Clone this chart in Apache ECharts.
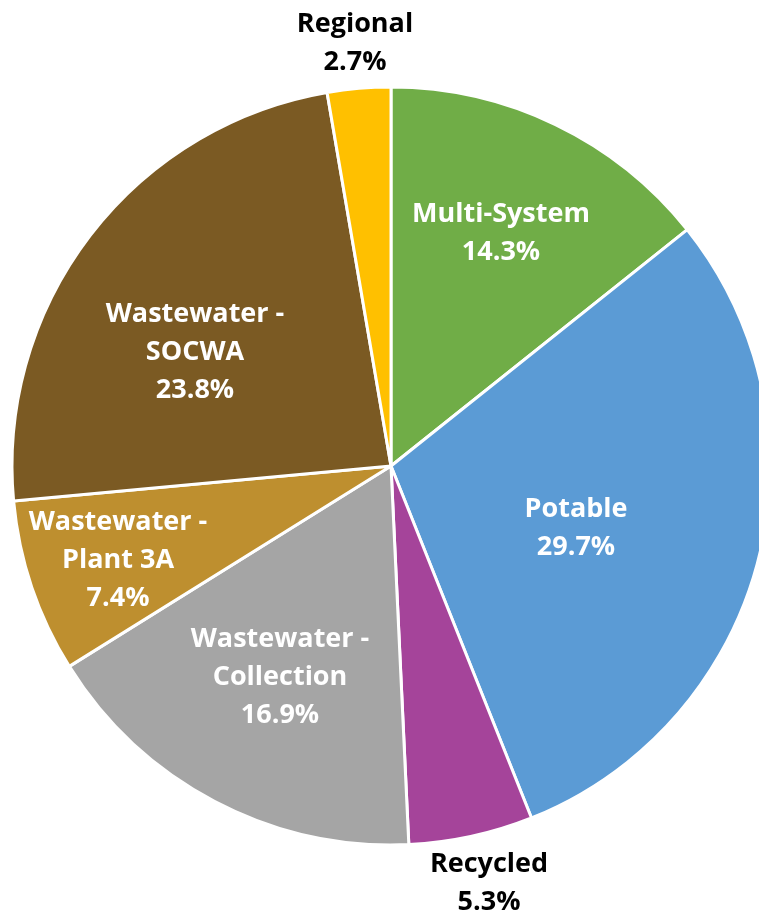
<!DOCTYPE html>
<html>
<head>
<meta charset="utf-8">
<script src="https://cdn.jsdelivr.net/npm/echarts@6/dist/echarts.min.js"></script>
<style>
html,body{margin:0;padding:0;background:#fff;}
#chart{width:759px;height:917px;}
</style>
</head>
<body>
<div id="chart"></div>
<script>
var categories = ['Multi-System', 'Potable', 'Recycled', 'Wastewater -\nCollection', 'Wastewater -\nPlant 3A', 'Wastewater -\nSOCWA', 'Regional'];
var values = [14.3, 29.7, 5.3, 16.9, 7.4, 23.8, 2.7];
var colors = ['#70AD47', '#5B9BD5', '#A5449A', '#A5A5A5', '#BE8F2F', '#7B5A23', '#FFC000'];
var labelColors = ['#fff', '#fff', '#000', '#fff', '#fff', '#fff', '#000'];
var labelPos = [[501, 233], [576, 528], [489, 883], [280, 677], [118, 560], [195, 352], [355, 43]];

var chart = echarts.init(document.getElementById('chart'));
var data = categories.map(function (c, i) {
  return {
    name: c,
    value: values[i],
    itemStyle: { color: colors[i] },
    label: { color: labelColors[i] }
  };
});
chart.setOption({
  animation: false,
  series: [{
    type: 'pie',
    center: [391, 466],
    radius: [0, 379],
    startAngle: 90,
    clockwise: true,
    data: data,
    itemStyle: { borderColor: '#fff', borderWidth: 3 },
    label: {
      show: true,
      position: 'inside',
      formatter: function (p) { return p.name + '\n' + p.value.toFixed(1) + '%'; },
      fontFamily: 'Open Sans',
      fontWeight: 'bold',
      fontSize: 27,
      lineHeight: 38,
      align: 'center',
      verticalAlign: 'middle'
    },
    labelLine: { show: false },
    labelLayout: function (params) {
      var p = labelPos[params.dataIndex];
      return { x: p[0], y: p[1], align: 'center', verticalAlign: 'middle' };
    }
  }]
});
</script>
</body>
</html>
